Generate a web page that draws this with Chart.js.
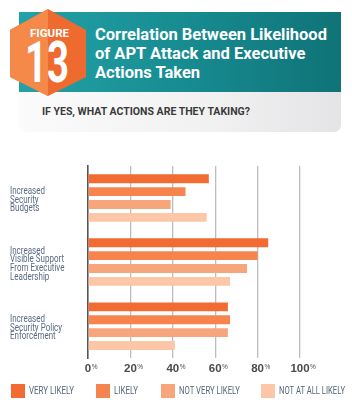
<!DOCTYPE html>
<html><head><meta charset="utf-8">
<script src="https://cdn.jsdelivr.net/npm/chart.js@4/dist/chart.umd.min.js"></script>
<style>
html,body{margin:0;padding:0;background:#fff;width:352px;height:406px;overflow:hidden;}
#wrap{position:relative;width:352px;height:406px;font-family:Roboto,"Liberation Sans",sans-serif;}
canvas{position:absolute;left:0;top:0;}
.teal{position:absolute;left:19px;top:12px;width:322px;height:80px;background:linear-gradient(90deg,#22a2a7 0%,#168a8f 55%,#0f7377 100%);}
.sub{position:absolute;left:19px;top:92px;width:322px;height:40px;background:linear-gradient(90deg,#fbfbfb 0%,#f1f1f2 60%,#e4e4e6 100%);border-radius:0 0 7px 7px;}
.fit{position:absolute;display:inline-block;white-space:nowrap;transform-origin:0 0;}
.subt{left:42px;top:105px;font-weight:bold;font-size:11px;line-height:13px;color:#3a3a3a;}
.title{left:95px;top:24.5px;font-weight:bold;font-size:17px;line-height:19px;color:#fff;}
svg{position:absolute;left:0;top:0;}
.f1{left:30px;top:27px;font-weight:bold;font-size:11px;line-height:13px;color:#fff;}
.f2{left:25px;top:34px;font-weight:bold;font-size:57px;line-height:57px;color:#fff;}
.lg-box{position:absolute;top:384px;width:14px;height:14px;}
.lg-txt{top:385px;font-size:10px;line-height:12px;color:#56667c;}
</style></head>
<body><div id="wrap">
<canvas id="c" width="352" height="406"></canvas>
<div class="teal"></div>
<div class="sub"></div>
<div class="fit subt" data-w="208">IF YES, WHAT ACTIONS ARE THEY TAKING?</div>
<svg width="100" height="100">
<polygon points="48,9 86,30 86,77 48,96 10,77 10,30" fill="#ef6a2e"/>
<polygon points="48,9 48,96 10,77 10,30" fill="#f4894a"/>
</svg>
<div class="fit f1" data-w="39">FIGURE</div>
<div class="fit f2" data-w="44">13</div>
<div class="fit title" data-w="232">Correlation Between Likelihood<br>of APT Attack and Executive<br>Actions Taken</div>
<div id="legend"></div>
</div>
<script>
const categories = [
  ["Increased","Security","Budgets"],
  ["Increased","Visible Support","From Executive","Leadership"],
  ["Increased","Security Policy","Enforcement"]
];
const seriesNames = ["VERY LIKELY","LIKELY","NOT VERY LIKELY","NOT AT ALL LIKELY"];
const veryLikely = [57, 85, 66];
const likely = [46, 80, 67];
const notVeryLikely = [39, 75, 66];
const notAtAllLikely = [56, 67, 41];
const tickValues = [0, 20, 40, 60, 80, 100];
const colors = ["#f26b33","#f5844f","#f7a67b","#fcc7a7"];

// legend (HTML, built from the series names/colours)
const legendX = [11, 96, 161, 261];
const legendW = [45, 24, 61, 66];
const lg = document.getElementById('legend');
seriesNames.forEach((n, i) => {
  const b = document.createElement('div');
  b.className = 'lg-box'; b.style.left = legendX[i] + 'px'; b.style.background = colors[i];
  lg.appendChild(b);
  const t = document.createElement('div');
  t.className = 'fit lg-txt'; t.style.left = (legendX[i] + 18) + 'px'; t.dataset.w = legendW[i];
  t.textContent = n;
  lg.appendChild(t);
});
document.querySelectorAll('.fit').forEach(el => {
  const w = el.getBoundingClientRect().width;
  el.style.transform = 'scaleX(' + (parseFloat(el.dataset.w) / w) + ')';
});

const yLabelPlugin = {
  id: 'ylabels',
  afterDraw(chart) {
    const s = chart.scales.y;
    const ctx = chart.ctx;
    ctx.save();
    ctx.font = '10px Roboto, "Liberation Sans", sans-serif';
    ctx.fillStyle = '#5a6a83';
    ctx.textAlign = 'left';
    ctx.textBaseline = 'alphabetic';
    categories.forEach((lines, i) => {
      const cy = s.getPixelForValue(i);
      lines.forEach((ln, k) => {
        const y = cy + (k - (lines.length - 1) / 2) * 8.6 + 4.5;
        ctx.save();
        ctx.translate(10, y);
        ctx.scale(0.8, 1);
        ctx.fillText(ln, 0, 0);
        ctx.restore();
      });
    });
    // small superscript % after the x tick labels
    const x = chart.scales.x;
    ctx.font = 'bold 11.5px "Liberation Sans", Arial, sans-serif';
    const w = x.ticks.map(t => ctx.measureText(String(t.value)).width);
    ctx.font = '6.5px "Liberation Sans", Arial, sans-serif';
    ctx.fillStyle = '#4a4a4a';
    ctx.textBaseline = 'top';
    x.ticks.forEach((t, i) => {
      ctx.fillText('%', x.getPixelForValue(t.value) + w[i] / 2 + 0.5, 364);
    });
    ctx.restore();
  }
};

new Chart(document.getElementById('c'), {
  type: 'bar',
  data: {
    labels: categories.map(c => c.join(' ')),
    datasets: [veryLikely, likely, notVeryLikely, notAtAllLikely].map((d, i) => ({
      label: seriesNames[i],
      data: d,
      backgroundColor: colors[i],
      borderWidth: 0,
      categoryPercentage: 0.804,
      barPercentage: 0.69
    }))
  },
  options: {
    indexAxis: 'y',
    responsive: false,
    animation: false,
    layout: { padding: { top: 166, left: 10, right: 0, bottom: 26 } },
    plugins: { tooltip: { enabled: false }, legend: { display: false } },
    scales: {
      x: {
        min: 0, max: 100,
        afterBuildTicks(s) { s.ticks = tickValues.map(v => ({ value: v })); },
        grid: {
          drawTicks: false,
          color: ctx => ctx.index === 0 ? 'rgba(0,0,0,0)' : '#bdbdbd',
          lineWidth: 1.3
        },
        border: { display: false },
        ticks: {
          padding: 4,
          color: '#4a4a4a',
          font: { family: '"Liberation Sans", Arial, sans-serif', size: 11.5, weight: 'bold' },
          callback: v => String(v)
        }
      },
      y: {
        afterFit(s) { s.width = 78; },
        grid: { display: false, drawTicks: false },
        border: { display: true, color: '#555', width: 1.6 },
        ticks: { display: false }
      },
      r: {
        type: 'linear',
        position: 'right',
        afterFit(s) { s.width = 52; },
        grid: { display: false, drawTicks: false },
        border: { display: false },
        ticks: { display: false }
      }
    }
  },
  plugins: [yLabelPlugin]
});
</script>
</body></html>
